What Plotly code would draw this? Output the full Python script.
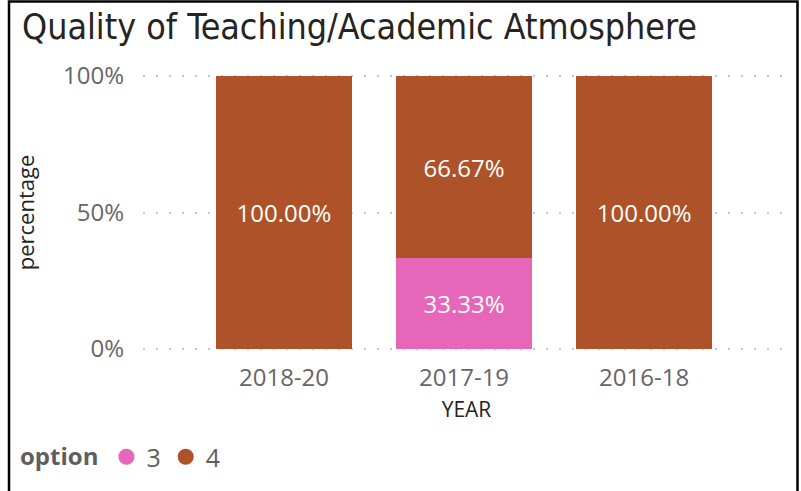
import plotly.graph_objects as go

years = ["2018-20", "2017-19", "2016-18"]
option_3 = [0, 33.33, 0]
option_4 = [100, 66.67, 100]
y_ticks = [0, 50, 100]
y_tick_labels = ["0%", "50%", "100%"]

W, H = 801, 491
L, R, T, B = 143, 11, 75, 141

PINK = "#E667B9"
BROWN = "#AD5229"


def px_x(p):
    return (p - L) / (W - L - R)


def px_y(p):
    return (H - B - p) / (H - T - B)


def labels(vals):
    return [f"{v:.2f}%" if v else "" for v in vals]


fig = go.Figure()

fig.add_trace(go.Bar(
    x=years, y=option_3, name="3", marker_color=PINK,
    text=labels(option_3), showlegend=False,
))
fig.add_trace(go.Bar(
    x=years, y=option_4, name="4", marker_color=BROWN,
    text=labels(option_4), showlegend=False,
))
fig.update_traces(
    textposition="inside", insidetextanchor="middle", textangle=0,
    insidetextfont=dict(family="Open Sans", size=24, color="white"),
    marker_line_width=0,
)

# round legend markers like the original
for name, col in [("3", PINK), ("4", BROWN)]:
    fig.add_trace(go.Scatter(
        x=[None], y=[None], mode="markers", name=name,
        marker=dict(symbol="circle", size=20, color=col),
    ))

fig.update_layout(
    barmode="stack",
    bargap=0.244,
    width=W, height=H,
    margin=dict(l=L, r=R, t=T, b=B),
    paper_bgcolor="white",
    plot_bgcolor="white",
    font=dict(family="Open Sans", color="#666666"),
    title=dict(
        text="Quality of Teaching/Academic Atmosphere",
        x=22 / W, xanchor="left", xref="container",
        y=1 - 27 / H, yanchor="middle", yref="container",
        font=dict(family="DejaVu Sans Condensed", size=35.5, color="#252423"),
    ),
    legend=dict(
        orientation="h",
        x=px_x(18), xanchor="left",
        y=px_y(457), yanchor="middle",
        title=dict(text="<b>option</b>", font=dict(family="Open Sans", size=24, color="#605E5C")),
        font=dict(family="Open Sans", size=25, color="#605E5C"),
        itemwidth=30,
        itemsizing="trace",
        traceorder="normal",
    ),
)

fig.update_xaxes(
    range=[-0.783, 2.81],
    title=dict(text="YEAR", font=dict(family="Open Sans", size=21, color="#252423"), standoff=10),
    tickfont=dict(family="Open Sans", size=24, color="#666666"),
    showgrid=False, showline=False, ticks="", zeroline=False,
    ticklabelstandoff=11,
)
fig.update_yaxes(
    range=[-0.4, 100.4],
    tickvals=y_ticks, ticktext=y_tick_labels,
    tickfont=dict(family="Open Sans", size=24, color="#666666"),
    title=dict(text="percentage", font=dict(family="Open Sans", size=22, color="#252423"), standoff=22),
    showgrid=True, gridcolor="#C8C8C8", gridwidth=2, griddash="2px,11px",
    zeroline=False, showline=False, ticks="",
    ticklabelstandoff=18,
)

# frame of the visual: left, top and right edges (one open path)
x_l, x_r = px_x(9), px_x(797.5)
y_t, y_b = px_y(1.5), px_y(H + 5)
fig.add_shape(type="path", xref="paper", yref="paper",
              path=f"M {x_l} {y_b} L {x_l} {y_t} L {x_r} {y_t} L {x_r} {y_b}",
              line=dict(color="#000000", width=2.5))

fig.write_html(
    "out.html",
    config={"displayModeBar": False},
    post_script="document.body.style.margin='0';document.body.style.overflow='hidden';",
)
